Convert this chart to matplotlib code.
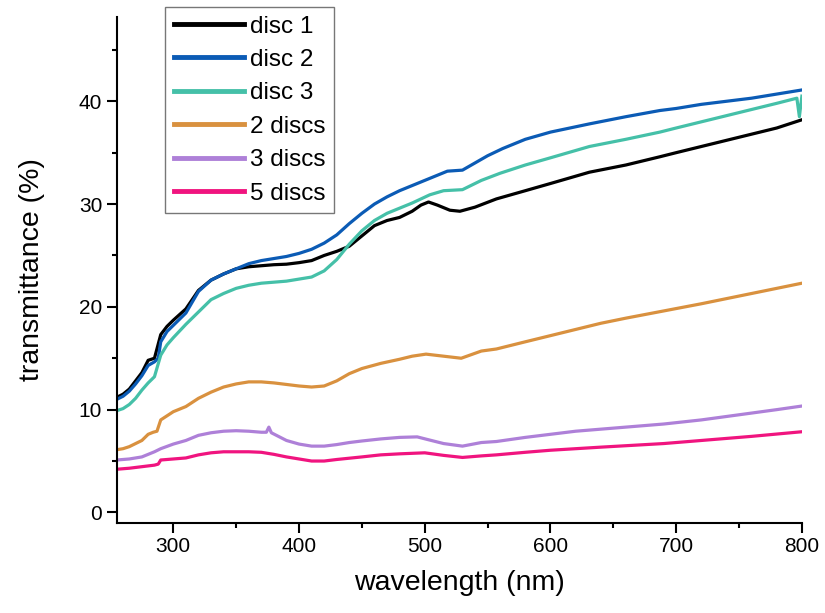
import matplotlib
matplotlib.use('Agg')
import matplotlib.pyplot as plt
from matplotlib.ticker import MultipleLocator

plt.rcParams['font.family'] = ['Liberation Sans', 'DejaVu Sans']

# disc 1
wl_d1 = [255, 260, 265, 270, 275, 280, 285, 290, 295, 300, 310, 320, 330, 340, 350, 360, 370, 380, 390, 400,
         410, 420, 430, 440, 450, 460, 470, 480, 490, 497, 503, 510, 520, 528, 540, 557, 580, 600, 631, 660,
         687, 700, 720, 740, 760, 780, 800]
t_d1 = [11.2, 11.5, 12.0, 12.8, 13.6, 14.8, 15.0, 17.3, 18.1, 18.7, 19.8, 21.6, 22.6, 23.2, 23.7, 23.9, 24.0, 24.1, 24.15, 24.3,
        24.5, 25.0, 25.4, 25.9, 26.9, 27.9, 28.4, 28.7, 29.3, 29.9, 30.2, 29.9, 29.4, 29.3, 29.7, 30.5, 31.3, 32.0, 33.1, 33.8,
        34.6, 35.0, 35.6, 36.2, 36.8, 37.4, 38.2]

# disc 2
wl_d2 = [255, 260, 265, 270, 275, 280, 285, 288, 290, 295, 300, 310, 320, 330, 340, 350, 360, 370, 380, 390,
         400, 410, 420, 430, 440, 450, 460, 470, 480, 490, 500, 510, 518, 530, 540, 550, 562, 580, 600, 631,
         660, 687, 700, 720, 740, 760, 780, 800]
t_d2 = [11.0, 11.3, 11.8, 12.5, 13.3, 14.3, 14.65, 15.0, 16.6, 17.6, 18.2, 19.4, 21.5, 22.6, 23.2, 23.7, 24.2, 24.5, 24.7, 24.9,
        25.2, 25.6, 26.2, 27.0, 28.1, 29.1, 30.0, 30.7, 31.3, 31.8, 32.3, 32.8, 33.2, 33.3, 34.0, 34.7, 35.4, 36.3, 37.0, 37.8,
        38.5, 39.1, 39.3, 39.7, 40.0, 40.3, 40.7, 41.1]

# disc 3
wl_d3 = [255, 260, 265, 270, 275, 280, 285, 290, 295, 300, 310, 320, 330, 340, 350, 360, 370, 380, 390, 400,
         410, 420, 430, 440, 450, 460, 470, 480, 490, 504, 515, 530, 545, 560, 580, 600, 631, 660, 687, 700,
         720, 740, 760, 780, 796, 798, 800]
t_d3 = [9.9, 10.1, 10.5, 11.1, 11.9, 12.6, 13.2, 15.3, 16.3, 17.0, 18.3, 19.5, 20.7, 21.3, 21.8, 22.1, 22.3, 22.4, 22.5, 22.7,
        22.9, 23.5, 24.6, 26.1, 27.4, 28.4, 29.1, 29.6, 30.1, 30.9, 31.3, 31.4, 32.3, 33.0, 33.8, 34.5, 35.6, 36.3, 37.0, 37.4,
        38.0, 38.6, 39.2, 39.8, 40.3, 38.5, 40.5]

# 2 discs
wl_2 = [255, 260, 265, 270, 275, 280, 284, 287, 290, 295, 300, 310, 320, 330, 340, 350, 360, 370, 380, 390,
        400, 410, 420, 430, 440, 450, 465, 480, 490, 501, 515, 529, 545, 557, 580, 600, 620, 640, 660, 690,
        720, 740, 760, 780, 800]
t_2 = [6.1, 6.2, 6.4, 6.7, 7.0, 7.6, 7.8, 7.9, 9.0, 9.4, 9.8, 10.3, 11.1, 11.7, 12.2, 12.5, 12.7, 12.7, 12.6, 12.45,
       12.3, 12.2, 12.3, 12.8, 13.5, 14.0, 14.5, 14.9, 15.2, 15.4, 15.2, 15.0, 15.7, 15.9, 16.6, 17.2, 17.8, 18.4, 18.9, 19.6,
       20.3, 20.8, 21.3, 21.8, 22.3]

# 3 discs
wl_3 = [255, 265, 275, 285, 290, 300, 310, 320, 330, 340, 350, 360, 370, 374, 376, 378, 390, 400, 410, 420,
        430, 440, 450, 465, 480, 494, 502, 515, 530, 545, 557, 580, 600, 620, 650, 690, 720, 750, 780, 800]
t_3 = [5.1, 5.2, 5.4, 5.9, 6.2, 6.65, 7.0, 7.5, 7.75, 7.9, 7.95, 7.9, 7.8, 7.8, 8.3, 7.75, 7.0, 6.65, 6.45, 6.45,
       6.6, 6.8, 6.95, 7.15, 7.3, 7.35, 7.1, 6.7, 6.45, 6.8, 6.9, 7.3, 7.6, 7.9, 8.2, 8.6, 9.0, 9.5, 10.0, 10.35]

# 5 discs
wl_5 = [255, 265, 275, 285, 288, 290, 300, 310, 320, 330, 340, 350, 360, 370, 380, 390, 400, 410, 420, 430,
        450, 465, 480, 500, 515, 530, 545, 557, 580, 600, 640, 690, 720, 760, 800]
t_5 = [4.2, 4.3, 4.45, 4.6, 4.7, 5.1, 5.2, 5.3, 5.6, 5.8, 5.9, 5.9, 5.9, 5.85, 5.65, 5.4, 5.2, 5.0, 5.0, 5.15,
       5.4, 5.6, 5.7, 5.8, 5.55, 5.35, 5.5, 5.6, 5.85, 6.05, 6.35, 6.7, 7.0, 7.4, 7.85]

labels = ['disc 1', 'disc 2', 'disc 3', '2 discs', '3 discs', '5 discs']
colors = ['#000000', '#0B5BB5', '#45C0A8', '#D9913F', '#AE80D8', '#F0147F']

fig = plt.figure(figsize=(8.25, 6.13), dpi=100)
ax = fig.add_axes([0.1415, 0.1473, 0.8305, 0.825])

series = [(wl_d1, t_d1), (wl_d2, t_d2), (wl_d3, t_d3), (wl_2, t_2), (wl_3, t_3), (wl_5, t_5)]
for (x, y), lab, c in zip(series, labels, colors):
    ax.plot(x, y, color=c, lw=2.3, label=lab)

ax.set_xlim(255, 800)
ax.set_ylim(-1, 48.2)
ax.xaxis.set_major_locator(MultipleLocator(100))
ax.xaxis.set_minor_locator(MultipleLocator(50))
ax.yaxis.set_major_locator(MultipleLocator(10))
ax.yaxis.set_minor_locator(MultipleLocator(5))
for s in ['top', 'right']:
    ax.spines[s].set_visible(False)
for s in ['left', 'bottom']:
    ax.spines[s].set_linewidth(1.5)
ax.tick_params(which='major', length=7, width=1.5, labelsize=15, direction='out')
ax.tick_params(which='minor', length=3.5, width=1.5, direction='out')

ax.set_xlabel('wavelength (nm)', fontsize=20.5, labelpad=10)
ax.set_ylabel('transmittance (%)', fontsize=20.5, labelpad=24)

leg = ax.legend(loc='upper left', bbox_to_anchor=(165 / 825, 1 - 7 / 613), bbox_transform=fig.transFigure,
                borderaxespad=0, fontsize=17.5, frameon=True, fancybox=False, handlelength=2.9,
                handletextpad=0.25, labelspacing=0.47, borderpad=0.35)
leg.get_frame().set_edgecolor('#555555')
leg.get_frame().set_linewidth(1.0)
for line in leg.get_lines():
    line.set_linewidth(3.5)

fig.savefig('out.png', dpi=100)
